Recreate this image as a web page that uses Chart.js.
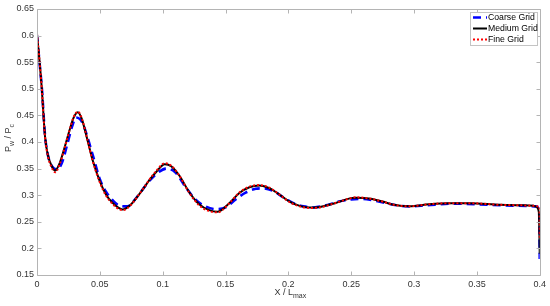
<!DOCTYPE html>
<html><head><meta charset="utf-8">
<script src="https://cdn.jsdelivr.net/npm/chart.js@4/dist/chart.umd.min.js"></script>
<style>html,body{margin:0;padding:0;background:#fff}#wrap{width:550px;height:306px;position:relative}</style>
</head><body><div id="wrap"><canvas id="c"></canvas></div>
<script>
const seriesNames = ['Coarse Grid', 'Medium Grid', 'Fine Grid'];

const coarseX = [0, 0.002, 0.004, 0.0064, 0.009, 0.012, 0.016, 0.020, 0.024, 0.028, 0.031, 0.036, 0.040, 0.045, 0.050, 0.055, 0.060, 0.066, 0.072, 0.080, 0.088, 0.095, 0.103, 0.110, 0.118, 0.126, 0.134, 0.142, 0.150, 0.158, 0.166, 0.174, 0.180, 0.188, 0.196, 0.204, 0.212, 0.220, 0.230, 0.240, 0.250, 0.258, 0.266, 0.276, 0.286, 0.296, 0.310, 0.330, 0.350, 0.370, 0.390, 0.397, 0.3995, 0.4];
const coarseY = [0.600, 0.550, 0.497, 0.412, 0.372, 0.354, 0.348, 0.362, 0.395, 0.430, 0.446, 0.437, 0.410, 0.370, 0.330, 0.306, 0.291, 0.280, 0.279, 0.298, 0.323, 0.340, 0.350, 0.343, 0.316, 0.292, 0.279, 0.274, 0.277, 0.292, 0.305, 0.312, 0.313, 0.308, 0.296, 0.285, 0.279, 0.277, 0.281, 0.288, 0.292, 0.293, 0.291, 0.286, 0.281, 0.279, 0.281, 0.284, 0.283, 0.281, 0.280, 0.279, 0.270, 0.180];

const mediumX = [0, 0.002, 0.0037, 0.0064, 0.0087, 0.0115, 0.0143, 0.018, 0.022, 0.026, 0.029, 0.0325, 0.0357, 0.040, 0.044, 0.050, 0.055, 0.060, 0.065, 0.068, 0.074, 0.082, 0.090, 0.095, 0.1016, 0.107, 0.1135, 0.121, 0.129, 0.137, 0.1437, 0.153, 0.161, 0.169, 0.177, 0.185, 0.193, 0.201, 0.209, 0.217, 0.225, 0.237, 0.249, 0.2535, 0.264, 0.275, 0.284, 0.296, 0.312, 0.328, 0.344, 0.368, 0.385, 0.395, 0.3973, 0.3993, 0.4];
const mediumY = [0.602, 0.552, 0.504, 0.410, 0.375, 0.356, 0.346, 0.360, 0.390, 0.423, 0.445, 0.456, 0.443, 0.405, 0.368, 0.326, 0.301, 0.286, 0.276, 0.273, 0.281, 0.304, 0.330, 0.344, 0.358, 0.354, 0.336, 0.306, 0.283, 0.272, 0.269, 0.285, 0.304, 0.315, 0.318, 0.313, 0.301, 0.288, 0.280, 0.277, 0.278, 0.285, 0.294, 0.295, 0.294, 0.288, 0.282, 0.279, 0.283, 0.285, 0.285, 0.282, 0.281, 0.280, 0.278, 0.268, 0.190];

const fineX = [0, 0.002, 0.0037, 0.0064, 0.0087, 0.0115, 0.0145, 0.018, 0.022, 0.026, 0.029, 0.0325, 0.0357, 0.040, 0.044, 0.050, 0.055, 0.060, 0.065, 0.0685, 0.074, 0.082, 0.090, 0.095, 0.1016, 0.107, 0.1135, 0.121, 0.129, 0.137, 0.144, 0.153, 0.161, 0.169, 0.177, 0.185, 0.193, 0.201, 0.209, 0.217, 0.225, 0.237, 0.249, 0.2535, 0.264, 0.275, 0.284, 0.296, 0.312, 0.328, 0.344, 0.368, 0.385, 0.395, 0.3985, 0.3998, 0.4];
const fineY = [0.604, 0.553, 0.503, 0.409, 0.373, 0.353, 0.343, 0.358, 0.389, 0.423, 0.446, 0.457, 0.444, 0.405, 0.367, 0.324, 0.299, 0.284, 0.274, 0.272, 0.280, 0.304, 0.331, 0.346, 0.360, 0.355, 0.336, 0.305, 0.281, 0.270, 0.268, 0.285, 0.305, 0.316, 0.319, 0.314, 0.301, 0.287, 0.279, 0.276, 0.277, 0.285, 0.294, 0.296, 0.294, 0.288, 0.282, 0.279, 0.283, 0.285, 0.285, 0.282, 0.281, 0.280, 0.279, 0.278, 0.220];

const xTicks = [0, 0.05, 0.1, 0.15, 0.2, 0.25, 0.3, 0.35, 0.4];
const yTicks = [0.15, 0.2, 0.25, 0.3, 0.35, 0.4, 0.45, 0.5, 0.55, 0.6, 0.65];

const FONT = "'Liberation Sans', Arial, Helvetica, sans-serif";
const fmt = v => String(parseFloat(Number(v).toFixed(3)));
const pts = (xs, ys) => xs.map((x, i) => ({x: x, y: ys[i]}));

const styles = [
  {color: '#0000ff', width: 2.6, dash: [8, 5]},
  {color: '#000000', width: 2.0, dash: []},
  {color: '#ff0000', width: 2.0, dash: [2, 2]}
];
const allData = [pts(coarseX, coarseY), pts(mediumX, mediumY), pts(fineX, fineY)];

const framePlugin = {
  id: 'frame',
  afterDraw(chart) {
    const ctx = chart.ctx;
    const a = chart.chartArea;
    const xs = chart.scales.x, ys = chart.scales.y;
    ctx.save();
    // box
    ctx.strokeStyle = '#b4b4b4';
    ctx.lineWidth = 1;
    ctx.setLineDash([]);
    const L = Math.round(a.left) + 0.5, R = Math.round(a.right) + 0.5;
    const T = Math.round(a.top) + 0.5, B = Math.round(a.bottom) + 0.5;
    ctx.beginPath();
    ctx.moveTo(L, T); ctx.lineTo(R, T); ctx.lineTo(R, B); ctx.lineTo(L, B); ctx.closePath();
    ctx.stroke();
    // inward ticks
    ctx.beginPath();
    xTicks.forEach(v => {
      const p = Math.round(xs.getPixelForValue(v)) + 0.5;
      ctx.moveTo(p, B); ctx.lineTo(p, B - 4);
      ctx.moveTo(p, T); ctx.lineTo(p, T + 4);
    });
    yTicks.forEach(v => {
      const p = Math.round(ys.getPixelForValue(v)) + 0.5;
      ctx.moveTo(L, p); ctx.lineTo(L + 4, p);
      ctx.moveTo(R, p); ctx.lineTo(R - 4, p);
    });
    ctx.stroke();

    // x title: X / L_max
    ctx.fillStyle = '#333';
    ctx.textBaseline = 'alphabetic';
    ctx.textAlign = 'left';
    const mainF = '9px ' + FONT, subF = '7px ' + FONT;
    ctx.font = mainF; const w1 = ctx.measureText('X / L').width;
    ctx.font = subF; const w2 = ctx.measureText('max').width;
    let x0 = (a.left + a.right) / 2 - (w1 + w2) / 2 + 2;
    ctx.font = mainF; ctx.fillText('X / L', x0, 295);
    ctx.font = subF; ctx.fillText('max', x0 + w1, 298);

    // y title: P_w / P_c
    ctx.save();
    ctx.translate(11, (a.top + a.bottom) / 2 - 4);
    ctx.rotate(-Math.PI / 2);
    const parts = [['P', mainF, 0], ['w', subF, 3], [' / P', mainF, 0], ['c', subF, 3]];
    let tw = 0;
    parts.forEach(p => { ctx.font = p[1]; tw += ctx.measureText(p[0]).width; });
    let cx = -tw / 2;
    parts.forEach(p => { ctx.font = p[1]; ctx.fillText(p[0], cx, p[2]); cx += ctx.measureText(p[0]).width; });
    ctx.restore();

    // legend
    const bx = 470.5, by = 12.5, bw = 67, bh = 33;
    ctx.fillStyle = '#ffffff';
    ctx.fillRect(bx, by, bw, bh);
    ctx.strokeStyle = '#c4c4c4';
    ctx.lineWidth = 1;
    ctx.strokeRect(bx, by, bw, bh);
    const rows = [17.5, 28.5, 39.5];
    chart.data.datasets.forEach((ds, i) => {
      const y = rows[i];
      ctx.save();
      ctx.beginPath();
      ctx.rect(472, y - 3, 15, 6);
      ctx.clip();
      ctx.strokeStyle = ds.borderColor;
      ctx.lineWidth = ds.borderWidth;
      ctx.setLineDash(ds.borderDash || []);
      ctx.beginPath();
      ctx.moveTo(473, y); ctx.lineTo(487, y);
      ctx.stroke();
      ctx.restore();
      ctx.fillStyle = '#000';
      ctx.font = '8.7px ' + FONT;
      ctx.textBaseline = 'middle';
      ctx.textAlign = 'left';
      ctx.fillText(ds.label, 488, y + 0.5);
    });
    ctx.restore();
  }
};

new Chart(document.getElementById('c'), {
  type: 'line',
  data: {
    datasets: seriesNames.map((name, i) => ({
      label: name,
      data: allData[i],
      borderColor: styles[i].color,
      backgroundColor: styles[i].color,
      borderWidth: styles[i].width,
      borderDash: styles[i].dash,
      pointRadius: 0,
      fill: false,
      cubicInterpolationMode: 'monotone',
      order: 3 - i
    }))
  },
  options: {
    responsive: true,
    maintainAspectRatio: false,
    animation: false,
    devicePixelRatio: 1,
    layout: {padding: {top: 9, right: 10, left: 0, bottom: 0}},
    plugins: {legend: {display: false}, tooltip: {enabled: false}},
    scales: {
      x: {
        type: 'linear', min: 0, max: 0.4,
        afterBuildTicks: s => { s.ticks = xTicks.map(v => ({value: v})); },
        afterFit: s => { s.height = 31; },
        grid: {display: true, drawOnChartArea: false, drawTicks: false},
        border: {display: false},
        ticks: {font: {family: FONT, size: 9}, color: '#333', padding: 4, maxRotation: 0, autoSkip: false, callback: v => fmt(v)}
      },
      y: {
        type: 'linear', min: 0.15, max: 0.65,
        afterBuildTicks: s => { s.ticks = yTicks.map(v => ({value: v})); },
        afterFit: s => { s.width = 37; },
        grid: {display: true, drawOnChartArea: false, drawTicks: false},
        border: {display: false},
        ticks: {font: {family: FONT, size: 9}, color: '#333', padding: 3, autoSkip: false, callback: v => fmt(v)}
      }
    }
  },
  plugins: [framePlugin]
});
</script>
</body></html>
